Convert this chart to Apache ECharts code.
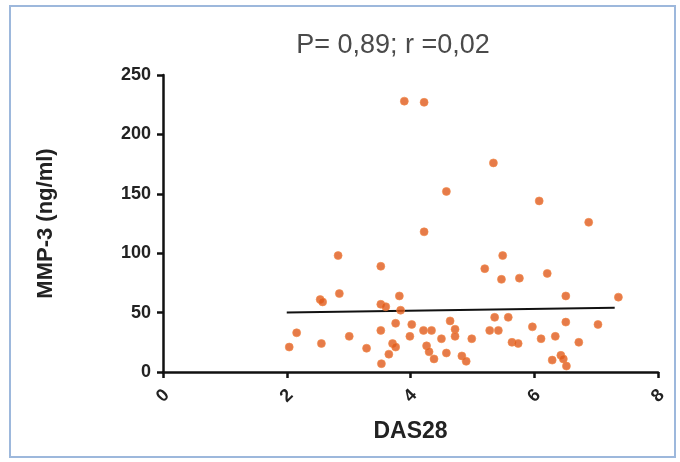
<!DOCTYPE html>
<html>
<head>
<meta charset="utf-8">
<script src="https://cdn.jsdelivr.net/npm/echarts@6/dist/echarts.min.js"></script>
<style>
  html, body { margin: 0; padding: 0; background: #fff; }
  #chart { width: 680px; height: 462px; }
</style>
</head>
<body>
<div id="chart"></div>
<script>
// DAS28 vs MMP-3 values
var das28 = [3.90, 4.22, 5.34, 4.58, 6.08, 6.88, 4.22, 2.83, 5.49, 3.52,
	5.20, 6.21, 5.76, 5.47, 2.85, 3.82, 6.51, 7.36, 2.54, 2.58,
	3.52, 3.60, 3.84, 5.36, 5.58, 4.64, 6.51, 3.76, 4.02, 7.03,
	5.97, 4.72, 3.52, 4.21, 4.34, 5.28, 5.42, 2.16, 3.01, 3.99,
	4.72, 6.34, 4.50, 4.99, 6.11, 5.64, 6.72, 2.56, 3.71, 5.74,
	4.26, 2.04, 3.76, 3.29, 4.30, 4.58, 3.65, 6.43, 4.83, 4.38,
	6.47, 6.29, 4.90, 3.53, 6.52];
var mmp3 = [228, 227, 176, 152, 144, 126, 118, 98, 98, 89,
	87, 83, 79, 78, 66, 64, 64, 63, 61, 59,
	57, 55, 52, 46, 46, 43, 42, 41, 40, 40,
	38, 36, 35, 35, 35, 35, 35, 33, 30, 30,
	30, 30, 28, 28, 28, 25, 25, 24, 24, 24,
	22, 21, 21, 20, 17, 16, 15, 14, 13.5, 11,
	11, 10, 9, 7, 5];

// regression line ends
var fitX = [2, 7.3];
var fitY = [50, 54];

var xTicks = [0, 2, 4, 6, 8];
var yTicks = [0, 50, 100, 150, 200, 250];

var points = das28.map(function (x, i) { return [x, mmp3[i]]; });
var fit = fitX.map(function (x, i) { return [x, fitY[i]]; });

var axisFont = 'Liberation Sans, Arial, sans-serif';

var option = {
	backgroundColor: '#fff',
	animation: false,
	title: {
		text: 'P= 0,89; r =0,02',
		left: 388,
		top: 27,
		textAlign: 'center',
		textStyle: { fontFamily: axisFont, fontSize: 27, fontWeight: 'normal', color: '#4a4a4a' },
	},
	graphic: [{
		type: 'rect',
		shape: { x: 10, y: 6, width: 665, height: 451 },
		style: { fill: 'none', stroke: '#9db8dc', lineWidth: 2 },
		silent: true,
	}],
	grid: { left: 163, right: 22, top: 75, bottom: 90 },
	xAxis: {
		type: 'value',
		min: xTicks[0],
		max: xTicks[xTicks.length - 1],
		interval: 2,
		name: 'DAS28',
		nameLocation: 'middle',
		nameGap: 48,
		nameTextStyle: { fontFamily: axisFont, fontSize: 23, fontWeight: 'bold', color: '#222' },
		axisLine: { onZero: false, lineStyle: { color: '#111', width: 2.5 } },
		axisTick: { show: true, length: 6, lineStyle: { color: '#111', width: 2.5 } },
		axisLabel: {
			rotate: 45, margin: 24, align: 'center', verticalAlign: 'middle',
			fontFamily: axisFont, fontSize: 18, fontWeight: 'bold', color: '#222',
		},
		splitLine: { show: false },
	},
	yAxis: {
		type: 'value',
		min: yTicks[0],
		max: yTicks[yTicks.length - 1],
		interval: 50,
		name: 'MMP-3 (ng/ml)',
		nameLocation: 'middle',
		nameGap: 106,
		nameRotate: 90,
		nameTextStyle: { fontFamily: axisFont, fontSize: 22, fontWeight: 'bold', color: '#222' },
		axisLine: { show: true, lineStyle: { color: '#111', width: 2.5 } },
		axisTick: { show: true, length: 6, lineStyle: { color: '#111', width: 2.5 } },
		axisLabel: { margin: 12, fontFamily: axisFont, fontSize: 18, fontWeight: 'bold', color: '#222' },
		splitLine: { show: false },
	},
	series: [{
			type: 'scatter',
			data: points,
			symbolSize: 8,
			itemStyle: { color: '#e05a1c', borderColor: '#f28a4a', borderWidth: 0.8 },
			z: 3,
		},
		{
			type: 'line',
			data: fit,
			symbol: 'none',
			lineStyle: { color: '#111', width: 2 },
			z: 2,
		},
	],
};

var myChart = echarts.init(document.getElementById('chart'));
myChart.setOption(option);
</script>
</body>
</html>
